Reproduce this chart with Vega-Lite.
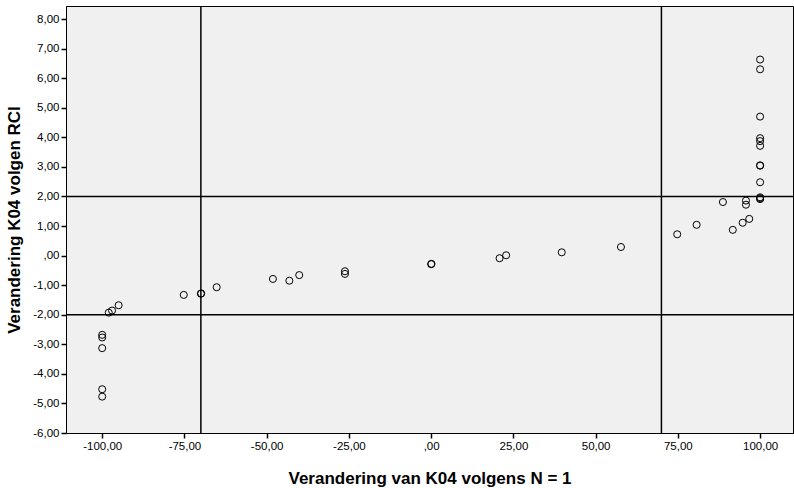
{
  "$schema": "https://vega.github.io/schema/vega-lite/v6.json",
  "autosize": {"type": "none"},
  "width": 727,
  "height": 427,
  "padding": {"left": 66, "top": 6, "right": 1, "bottom": 55},
  "background": "white",
  "config": {
    "locale": {"number": {"decimal": ",", "thousands": ".", "grouping": [3], "currency": ["", ""], "minus": "-"}},
    "view": {"fill": "#F0F0F0", "stroke": "black", "strokeWidth": 1},
    "font": "Liberation Sans",
    "axis": {
      "grid": false,
      "domainColor": "black",
      "tickColor": "black",
      "tickSize": 5,
      "tickWidth": 1.5,
      "labelFont": "Liberation Sans",
      "labelFontSize": 11.5,
      "labelColor": "black",
      "labelOverlap": false,
      "labelFlush": false,
      "titleFont": "Liberation Sans",
      "titleFontSize": 17,
      "titleFontWeight": "bold",
      "titleColor": "black"
    }
  },
  "datasets": {
    "points": [
      {"x": 100, "y": 6.63}, {"x": 100, "y": 6.3}, {"x": 100, "y": 4.7},
      {"x": 100, "y": 3.97}, {"x": 100, "y": 3.87}, {"x": 100, "y": 3.71},
      {"x": 100, "y": 3.04}, {"x": 100, "y": 3.05}, {"x": 100, "y": 2.48},
      {"x": 100, "y": 1.97}, {"x": 100, "y": 1.91}, {"x": 100, "y": 1.94},
      {"x": 88.7, "y": 1.81}, {"x": 95.7, "y": 1.86}, {"x": 95.7, "y": 1.72},
      {"x": 96.7, "y": 1.24}, {"x": 94.7, "y": 1.11}, {"x": 91.7, "y": 0.87},
      {"x": 80.7, "y": 1.04}, {"x": 74.8, "y": 0.72}, {"x": 57.7, "y": 0.29},
      {"x": 39.7, "y": 0.11}, {"x": 22.8, "y": 0.01}, {"x": 20.8, "y": -0.09},
      {"x": 0, "y": -0.29}, {"x": 0.1, "y": -0.28},
      {"x": -26.2, "y": -0.53}, {"x": -26.2, "y": -0.62},
      {"x": -40.1, "y": -0.66}, {"x": -43.1, "y": -0.85}, {"x": -48.1, "y": -0.79},
      {"x": -65.2, "y": -1.07}, {"x": -70, "y": -1.29}, {"x": -69.9, "y": -1.28},
      {"x": -75.2, "y": -1.33}, {"x": -95, "y": -1.68}, {"x": -97, "y": -1.86},
      {"x": -98, "y": -1.93}, {"x": -100, "y": -2.68}, {"x": -100, "y": -2.77},
      {"x": -100, "y": -3.13}, {"x": -100, "y": -4.52}, {"x": -100, "y": -4.77}
    ],
    "vlines": [{"x": -70}, {"x": 70}],
    "hlines": [{"y": -2}, {"y": 2}]
  },
  "layer": [
    {
      "data": {"name": "points"},
      "mark": {"type": "point", "shape": "circle", "filled": false, "color": "black", "strokeWidth": 1, "size": 50, "opacity": 1},
      "encoding": {
        "x": {
          "field": "x", "type": "quantitative",
          "scale": {"domain": [-111, 110], "nice": false, "zero": false},
          "axis": {
            "title": "Verandering van K04 volgens N = 1",
            "values": [-100, -75, -50, -25, 0, 25, 50, 75, 100],
            "tickCount": 30,
            "format": ".2f",
            "labelOverlap": false,
            "labelExpr": "datum.value == 0 ? ',00' : datum.label",
            "titlePadding": 19
          }
        },
        "y": {
          "field": "y", "type": "quantitative",
          "scale": {"domain": [-6, 8.44], "nice": false, "zero": false},
          "axis": {
            "title": "Verandering K04 volgen RCI",
            "values": [-6, -5, -4, -3, -2, -1, 0, 1, 2, 3, 4, 5, 6, 7, 8],
            "tickCount": 30,
            "format": ".2f",
            "labelOverlap": false,
            "labelBound": false,
            "labelExpr": "datum.value == 0 ? ',00' : datum.label",
            "titlePadding": 9
          }
        }
      }
    },
    {
      "data": {"name": "vlines"},
      "mark": {"type": "rule", "color": "black", "strokeWidth": 1.5},
      "encoding": {
        "x": {"field": "x", "type": "quantitative"}
      }
    },
    {
      "data": {"name": "hlines"},
      "mark": {"type": "rule", "color": "black", "strokeWidth": 1.5},
      "encoding": {
        "y": {"field": "y", "type": "quantitative"}
      }
    }
  ]
}
